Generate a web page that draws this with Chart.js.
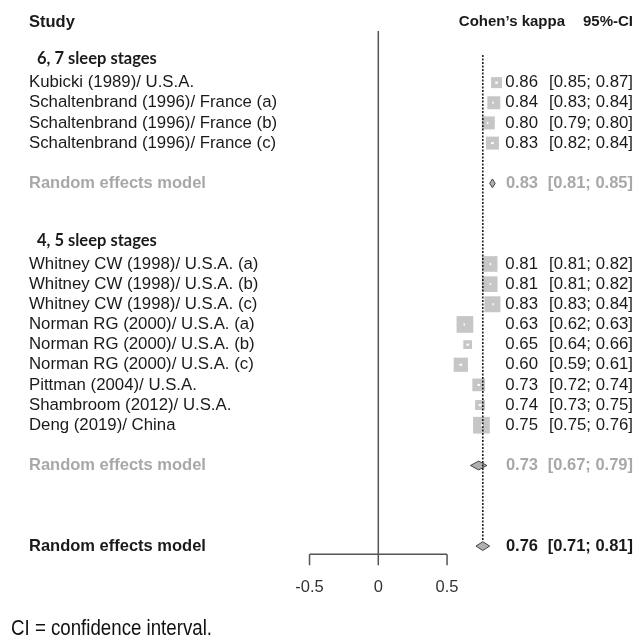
<!DOCTYPE html>
<html>
<head>
<meta charset="utf-8">
<script src="https://cdn.jsdelivr.net/npm/chart.js@4.4.1/dist/chart.umd.min.js"></script>
<style>
  html, body { margin: 0; padding: 0; background: #fff; }
  #wrap { width: 636px; height: 640px; }
</style>
</head>
<body>
<div id="wrap"><canvas id="forest" width="636" height="640"></canvas></div>
<script>
// Study level data (Cohen's kappa with 95%-CI, weight in %)
const studies = [
  'Kubicki (1989)/ U.S.A.',
  'Schaltenbrand (1996)/ France (a)',
  'Schaltenbrand (1996)/ France (b)',
  'Schaltenbrand (1996)/ France (c)',
  'Whitney CW (1998)/ U.S.A. (a)',
  'Whitney CW (1998)/ U.S.A. (b)',
  'Whitney CW (1998)/ U.S.A. (c)',
  'Norman RG (2000)/ U.S.A. (a)',
  'Norman RG (2000)/ U.S.A. (b)',
  'Norman RG (2000)/ U.S.A. (c)',
  'Pittman (2004)/ U.S.A.',
  'Shambroom (2012)/ U.S.A.',
  'Deng (2019)/ China'
];
const kappa  = [0.86, 0.84, 0.80, 0.83, 0.81, 0.81, 0.83, 0.63, 0.65, 0.60, 0.73, 0.74, 0.75];
const ciLow  = [0.85, 0.83, 0.79, 0.82, 0.81, 0.81, 0.83, 0.62, 0.64, 0.59, 0.72, 0.73, 0.75];
const ciHigh = [0.87, 0.84, 0.80, 0.84, 0.82, 0.82, 0.84, 0.63, 0.66, 0.61, 0.74, 0.75, 0.76];
const weights = [4.9, 6.8, 6.8, 6.8, 9.9, 9.9, 10.3, 11.3, 3.1, 8.2, 6.5, 4.0, 11.3];
const studyRows = [0, 1, 2, 3, 9, 10, 11, 12, 13, 14, 15, 16, 17];

// subgroup headings
const subgroups = ['6, 7 sleep stages', '4, 5 sleep stages'];
const subgroupRows = [-1.2, 7.85];

// pooled estimates: two subgroups + overall
const models = ['Random effects model', 'Random effects model', 'Random effects model'];
const modelKappa = [0.83, 0.73, 0.76];
const modelLow   = [0.81, 0.67, 0.71];
const modelHigh  = [0.85, 0.79, 0.81];
const modelRows  = [5, 19, 23];

const xTicks = [-0.5, 0, 0.5];

// layout rows (in row units)
const headerRow = -3;
const axisRow = 23.41;

const FONT = '"Liberation Sans", Arial, sans-serif';
const DARK = '#1a1a1a';
const GREY_TXT = '#a8a8a8';

function diamond(est, lo, hi, row) {
  const h = 0.22;
  return [
    { x: lo, y: row }, { x: est, y: row - h },
    { x: hi, y: row }, { x: est, y: row + h }, { x: lo, y: row }
  ];
}

const datasets = [
  { // line of no effect
    type: 'line', data: [{ x: 0, y: -2.56 }, { x: 0, y: axisRow }],
    borderColor: '#555', borderWidth: 1.5, pointRadius: 0, fill: false
  },
  { // dashed line at overall estimate
    type: 'line', data: [{ x: modelKappa[2], y: -1.37 }, { x: modelKappa[2], y: 22.7 }],
    borderColor: '#111', borderWidth: 1.5, borderDash: [2, 1.5], pointRadius: 0, fill: false
  },
  { // study boxes, area proportional to weight
    type: 'scatter',
    data: kappa.map((k, i) => ({ x: k, y: studyRows[i] })),
    pointStyle: 'rect',
    pointRadius: weights.map(w => 4.97 * Math.sqrt(w) / Math.SQRT2),
    backgroundColor: '#c6c6c6', borderWidth: 0
  }
];
modelKappa.forEach((k, i) => {
  datasets.push({
    type: 'line',
    data: diamond(k, modelLow[i], modelHigh[i], modelRows[i]),
    borderColor: '#444', borderWidth: 1,
    backgroundColor: '#b0b0b0',
    fill: 'shape', pointRadius: 0, tension: 0
  });
});

const forestText = {
  id: 'forestText',
  afterDatasetsDraw(chart) {
    const ctx = chart.ctx;
    const xs = chart.scales.x, ys = chart.scales.y;
    const Y = r => ys.getPixelForValue(r);
    ctx.save();

    // white CI marks inside boxes
    ctx.strokeStyle = '#fff';
    ctx.lineWidth = 2;
    kappa.forEach((k, i) => {
      let a = xs.getPixelForValue(ciLow[i]), b = xs.getPixelForValue(ciHigh[i]);
      if (b - a < 1.5) { const m = (a + b) / 2; a = m - 0.75; b = m + 0.75; }
      ctx.beginPath(); ctx.moveTo(a, Y(studyRows[i])); ctx.lineTo(b, Y(studyRows[i])); ctx.stroke();
    });

    // x axis
    ctx.strokeStyle = '#555';
    ctx.lineWidth = 1.5;
    const ay = Y(axisRow);
    ctx.beginPath();
    ctx.moveTo(xs.getPixelForValue(xTicks[0]), ay);
    ctx.lineTo(xs.getPixelForValue(xTicks[xTicks.length - 1]), ay);
    xTicks.forEach(t => {
      const px = xs.getPixelForValue(t);
      ctx.moveTo(px, ay); ctx.lineTo(px, ay + 11);
    });
    ctx.stroke();
    ctx.fillStyle = '#333';
    ctx.font = '16.5px ' + FONT;
    ctx.textAlign = 'center';
    ctx.textBaseline = 'middle';
    xTicks.forEach(t => ctx.fillText(String(t), xs.getPixelForValue(t), ay + 33));

    // headers
    ctx.fillStyle = DARK;
    ctx.font = 'bold 16.5px ' + FONT;
    ctx.textAlign = 'left';
    ctx.fillText('Study', 29, Y(headerRow));
    ctx.font = 'bold 15px ' + FONT;
    ctx.textAlign = 'right';
    ctx.fillText('Cohen\u2019s kappa', 565, Y(headerRow));
    ctx.fillText('95%-CI', 633, Y(headerRow));

    ctx.font = 'bold 16.5px Lato, "Open Sans", sans-serif';
    ctx.textAlign = 'left';
    subgroups.forEach((s, i) => ctx.fillText(s, 37, Y(subgroupRows[i])));

    // studies
    ctx.font = '16.8px ' + FONT;
    studies.forEach((s, i) => {
      const y = Y(studyRows[i]);
      ctx.textAlign = 'left';
      ctx.fillText(s, 29, y);
      ctx.textAlign = 'right';
      ctx.fillText(kappa[i].toFixed(2), 538, y);
      ctx.fillText('[' + ciLow[i].toFixed(2) + '; ' + ciHigh[i].toFixed(2) + ']', 633, y);
    });

    // pooled rows
    ctx.font = 'bold 16.5px ' + FONT;
    models.forEach((m, i) => {
      const y = Y(modelRows[i]);
      ctx.fillStyle = i === 2 ? DARK : GREY_TXT;
      ctx.textAlign = 'left';
      ctx.fillText(m, 29, y);
      ctx.textAlign = 'right';
      ctx.fillText(modelKappa[i].toFixed(2), 538, y);
      ctx.fillText('[' + modelLow[i].toFixed(2) + '; ' + modelHigh[i].toFixed(2) + ']', 633, y);
    });

    // footnote (condensed)
    const note = 'CI = confidence interval.';
    ctx.fillStyle = '#111';
    ctx.font = '22px ' + FONT;
    ctx.textAlign = 'left';
    const w = ctx.measureText(note).width;
    ctx.translate(11, 629);
    ctx.scale(201 / w, 1);
    ctx.fillText(note, 0, 0);
    ctx.restore();
  }
};

new Chart(document.getElementById('forest'), {
  type: 'scatter',
  data: { datasets },
  options: {
    responsive: false,
    animation: false,
    layout: { padding: 0, autoPadding: false },
    scales: {
      x: { type: 'linear', min: -2.751, max: 1.874, display: false },
      y: { type: 'linear', min: -4.1, max: 27.66, reverse: true, display: false }
    },
    plugins: { legend: { display: false }, tooltip: { enabled: false } }
  },
  plugins: [forestText]
});
</script>
</body>
</html>
